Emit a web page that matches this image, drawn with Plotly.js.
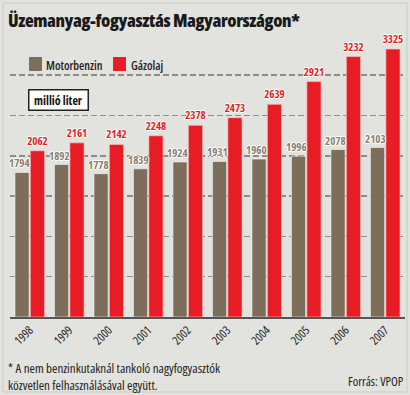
<!DOCTYPE html>
<html>
<head>
<meta charset="utf-8">
<script src="https://cdn.plot.ly/plotly-3.0.1.min.js"></script>
<style>
html,body{margin:0;padding:0;background:#e2e3de;}
#chart{width:410px;height:395px;}
text{font-stretch:condensed;}
.gtitle{letter-spacing:-0.4px;}
</style>
</head>
<body>
<div id="chart"></div>
<script>
const years = ['1998','1999','2000','2001','2002','2003','2004','2005','2006','2007'];
const motorbenzin = [1794,1892,1778,1839,1924,1931,1960,1996,2078,2103];
const gazolaj = [2062,2161,2142,2248,2378,2473,2639,2921,3232,3325];
const seriesNames = ['Motorbenzin','Gázolaj'];
const seriesColors = ['#7d6e5b','#e81c24'];

const FONT = '"Open Sans", "Roboto Condensed", sans-serif';
const halo = '1px 0 0 #fff, -1px 0 0 #fff, 0 1px 0 #fff, 0 -1px 0 #fff';

// pixel -> paper helpers (plot area x:10..405, y:43..317)
const L = 10, R = 405, T = 43, B = 317;
const px = v => (v - L) / (R - L);
const py = v => (B - v) / (B - T);

const traces = [
  {
    type: 'bar', name: seriesNames[0], x: years, y: motorbenzin,
    marker: {color: seriesColors[0], line: {color: 'rgba(255,255,255,0.55)', width: 1}},
    hoverinfo: 'skip', showlegend: false
  },
  {
    type: 'bar', name: seriesNames[1], x: years, y: gazolaj,
    marker: {color: seriesColors[1], line: {color: 'rgba(255,200,200,0.6)', width: 1}},
    text: gazolaj.map(String), textposition: 'outside', cliponaxis: false,
    constraintext: 'none',
    textfont: {family: FONT, size: 11, color: '#df1f27', weight: 700, shadow: halo},
    hoverinfo: 'skip', showlegend: false
  }
];

// value labels for Motorbenzin, drawn on top of the bars (x = category index)
const benzinLabels = years.map((yr, i) => ({
  x: i, y: motorbenzin[i], xref: 'x', yref: 'y', text: String(motorbenzin[i]),
  showarrow: false, xanchor: 'center', yanchor: 'bottom', xshift: -10, yshift: 0,
  font: {family: FONT, size: 11, color: '#8a7f70', weight: 700, shadow: halo}
}));

// legend (square + label per series)
const legendX = [[29, 42, 44], [113, 126, 129]];
const legendShapes = seriesNames.map((n, i) => ({
  type: 'rect', xref: 'paper', yref: 'paper',
  x0: px(legendX[i][0]), x1: px(legendX[i][1]), y0: py(71), y1: py(57),
  fillcolor: seriesColors[i], line: {width: 0}
}));
const legendLabels = seriesNames.map((n, i) => ({
  text: n, xref: 'paper', yref: 'paper', x: px(legendX[i][2]), y: py(65),
  xanchor: 'left', yanchor: 'middle', showarrow: false, align: 'left', width: 66,
  font: {family: FONT, size: 12, color: '#222', weight: 600}
}));

const layout = {
  width: 410, height: 395,
  margin: {l: L, r: 410 - R, t: T, b: 395 - B},
  paper_bgcolor: '#e2e3de', plot_bgcolor: 'rgba(0,0,0,0)',
  barmode: 'group', bargap: 0.22, bargroupgap: 0.08,
  font: {family: FONT, color: '#222'},
  title: {
    text: 'Üzemanyag-fogyasztás Magyarországon*',
    x: 0, xref: 'paper', xanchor: 'left', y: 1, yref: 'container', yanchor: 'top',
    pad: {t: 14, l: -2},
    font: {family: FONT, size: 18, color: '#1a1a1a', weight: 800}
  },
  xaxis: {
    type: 'category', range: [-0.5, 9.5], showgrid: false, showline: true, linecolor: '#555', linewidth: 1.5,
    ticks: '', tickangle: -45, tickfont: {family: FONT, size: 12, color: '#222'},
    fixedrange: true
  },
  yaxis: {
    range: [0, 3400], dtick: 500, showticklabels: false, zeroline: false,
    showgrid: true, gridcolor: '#8c8c88', gridwidth: 1.5, griddash: '6px,3px',
    fixedrange: true
  },
  showlegend: false,
  shapes: [
    {type: 'rect', xref: 'paper', yref: 'paper', x0: px(3), x1: px(407), y0: py(392), y1: py(3),
     line: {color: '#c9cac5', width: 1}, fillcolor: 'rgba(0,0,0,0)', layer: 'below'}
  ].concat(legendShapes),
  annotations: [
    {text: 'millió liter', xref: 'paper', yref: 'paper', x: px(58), y: py(100),
     xanchor: 'center', yanchor: 'middle', showarrow: false,
     font: {family: FONT, size: 12, color: '#111', weight: 700},
     bgcolor: '#ffffff', bordercolor: '#222', borderwidth: 1.5, borderpad: 1, width: 56},
    {text: '* A nem benzinkutaknál tankoló nagyfogyasztók<br>közvetlen felhasználásával együtt.',
     xref: 'paper', yref: 'paper', x: px(6), y: py(357), xanchor: 'left', yanchor: 'top',
     align: 'left', showarrow: false,
     font: {family: FONT, size: 13, color: '#222'}},
    {text: 'Forrás: VPOP', xref: 'paper', yref: 'paper', x: px(406), y: py(382),
     xanchor: 'right', yanchor: 'middle', showarrow: false,
     font: {family: FONT, size: 12.5, color: '#222'}}
  ].concat(legendLabels, benzinLabels)
};

Plotly.newPlot('chart', traces, layout, {staticPlot: true, displayModeBar: false});
</script>
</body>
</html>
